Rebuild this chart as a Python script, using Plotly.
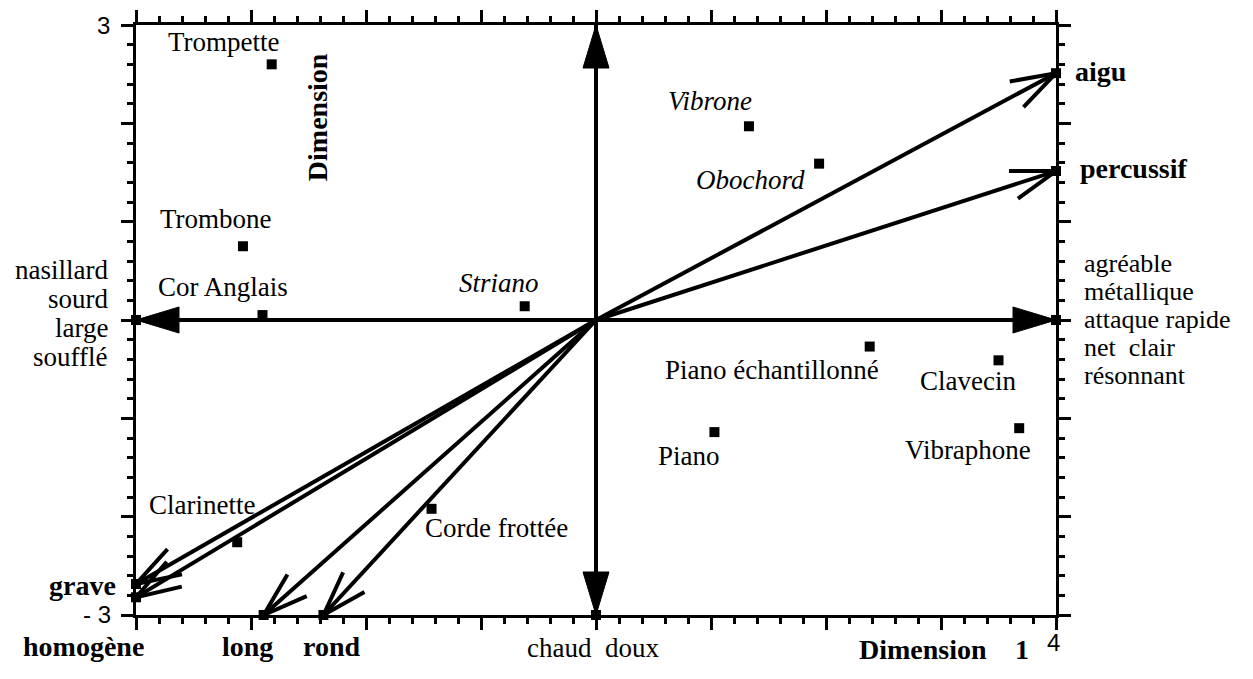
import math
import plotly.graph_objects as go

# ---------------- data ----------------
instruments = ["Trompette", "Trombone", "Cor Anglais", "Striano", "Vibrone", "Obochord",
               "Piano échantillonné", "Clavecin", "Vibraphone", "Piano", "Corde frottée", "Clarinette"]
inst_x = [-2.82, -3.07, -2.90, -0.62, 1.33, 1.94, 2.38, 3.50, 3.68, 1.03, -1.43, -3.12]
inst_y = [2.60, 0.75, 0.05, 0.14, 1.97, 1.59, -0.27, -0.41, -1.10, -1.14, -1.92, -2.26]
inst_italic = [False, False, False, True, True, True, False, False, False, False, False, False]
# label offsets in pixels (right, up) from each point
label_dx = [-48, -27, -40, -26, -39, -69, -98, -31, -51, -25, 65, -35]
label_dy = [22, 27.5, 28.5, 23.5, 25.5, -16.5, -23.5, -20.5, -21.5, -23.5, -19.5, 37.5]

# descriptor vectors (open arrowheads)
vec_names = ["aigu", "percussif", "grave", "", "long", "rond"]
vec_x = [4.0, 4.0, -4.0, -4.0, -2.89, -2.37]
vec_y = [2.51, 1.515, -2.685, -2.82, -3.0, -3.0]

# main axis arrows (filled arrowheads)
pole_x = [-4.0, 4.0, 0.0, 0.0]
pole_y = [0.0, 0.0, 3.0, -3.0]
pole_marked = [True, True, False, True]

left_words = ["nasillard", "sourd", "large", "soufflé"]
right_words = ["agréable", "métallique", "attaque rapide", "net\u00a0 clair", "résonnant"]

# ---------------- layout constants ----------------
BODY = 8                      # default page margin around the plot div
W, H = 1253 - 2 * BODY, 679 - 2 * BODY
ML, MT = 136 - BODY, 25 - BODY
PW, PH = 920, 590
MR, MB = W - ML - PW, H - MT - PH
XR = [-4, 4]
YR = [-3, 3]
kx = PW / (XR[1] - XR[0])
ky = PH / (YR[1] - YR[0])

SERIF = "Liberation Serif"
SANS = "Liberation Sans"
FS = 27
FR = 26
FB = 28
FT = 24

fig = go.Figure()

# shafts
sx, sy = [], []
for ex, ey in zip(vec_x, vec_y):
    sx += [0, ex, None]
    sy += [0, ey, None]
sx += [pole_x[0], pole_x[1], None, pole_x[2], pole_x[3], None]
sy += [pole_y[0], pole_y[1], None, pole_y[2], pole_y[3], None]
fig.add_trace(go.Scatter(x=sx, y=sy, mode="lines", line=dict(color="black", width=4),
                         hoverinfo="skip"))


def unit_back(ex, ey):
    px, py = -ex * kx, -ey * ky
    n = math.hypot(px, py)
    return px / n, py / n


# open chevron heads
cx, cy = [], []
L_ARM, HALF = 47, 18
for ex, ey in zip(vec_x, vec_y):
    ux, uy = unit_back(ex, ey)
    pts = []
    for s in (1, -1):
        a = math.radians(HALF * s)
        rx = ux * math.cos(a) - uy * math.sin(a)
        ry = ux * math.sin(a) + uy * math.cos(a)
        pts.append((ex + rx * L_ARM / kx, ey + ry * L_ARM / ky))
    cx += [pts[0][0], ex, pts[1][0], None]
    cy += [pts[0][1], ey, pts[1][1], None]
fig.add_trace(go.Scatter(x=cx, y=cy, mode="lines", line=dict(color="black", width=4),
                         hoverinfo="skip"))

# filled triangle heads
TL, TW = 43, 13
for ex, ey in zip(pole_x, pole_y):
    ux, uy = unit_back(ex, ey)
    bx, by = ex * kx + ux * TL, ey * ky + uy * TL
    p1 = ((bx - uy * TW) / kx, (by + ux * TW) / ky)
    p2 = ((bx + uy * TW) / kx, (by - ux * TW) / ky)
    fig.add_trace(go.Scatter(x=[ex, p1[0], p2[0], ex], y=[ey, p1[1], p2[1], ey],
                             mode="lines", fill="toself", fillcolor="black",
                             line=dict(color="black", width=1), hoverinfo="skip"))

# end markers
mx = vec_x + [x for x, m in zip(pole_x, pole_marked) if m]
my = vec_y + [y for y, m in zip(pole_y, pole_marked) if m]
fig.add_trace(go.Scatter(x=mx, y=my, mode="markers", cliponaxis=False,
                         marker=dict(symbol="square", size=10, color="black"), hoverinfo="skip"))

# instruments
fig.add_trace(go.Scatter(x=inst_x, y=inst_y, mode="markers", cliponaxis=False,
                         marker=dict(symbol="square", size=10, color="black"),
                         text=instruments, hoverinfo="text"))

ann = []
for name, x, y, it, dx, dy in zip(instruments, inst_x, inst_y, inst_italic, label_dx, label_dy):
    ann.append(dict(x=x, y=y, text=name, showarrow=False, xshift=dx, yshift=dy,
                    font=dict(family=SERIF, size=FS, color="black",
                              style="italic" if it else "normal")))

# vector labels
vec_lab = {
    "aigu": dict(xanchor="left", xshift=17, yshift=2),
    "percussif": dict(xanchor="left", xshift=22, yshift=3),
    "grave": dict(xanchor="right", xshift=-18, yshift=-1),
    "long": dict(xanchor="center", xshift=-16, yshift=-31),
    "rond": dict(xanchor="center", xshift=8, yshift=-31),
}
for name, x, y in zip(vec_names, vec_x, vec_y):
    if name:
        ann.append(dict(x=x, y=y, text=name, showarrow=False, **vec_lab[name],
                        font=dict(family=SERIF, size=FB, color="black", weight="bold")))

# pole labels
for i, w in enumerate(left_words):
    ann.append(dict(x=pole_x[0], y=pole_y[0], text=w, showarrow=False, xanchor="right",
                    xshift=-26, yshift=50.5 - 29 * i,
                    font=dict(family=SERIF, size=FS, color="black")))
for i, w in enumerate(right_words):
    ann.append(dict(x=pole_x[1], y=pole_y[1], text=w, showarrow=False, xanchor="left",
                    xshift=26, yshift=57 - 28 * i,
                    font=dict(family=SERIF, size=FR, color="black")))
ann.append(dict(x=pole_x[3], y=pole_y[3], text="chaud\u00a0 doux", showarrow=False,
                xshift=-3, yshift=-33, font=dict(family=SERIF, size=FS, color="black")))
ann.append(dict(x=XR[0], y=YR[0], text="homogène", showarrow=False,
                xshift=-52.5, yshift=-31,
                font=dict(family=SERIF, size=FB, color="black", weight="bold")))

# axis titles
ann.append(dict(x=2.84, y=YR[0], text="Dimension", showarrow=False, yshift=-34,
                font=dict(family=SERIF, size=FB, color="black", weight="bold")))
ann.append(dict(x=3.70, y=YR[0], text="1", showarrow=False, yshift=-34,
                font=dict(family=SERIF, size=FB, color="black", weight="bold")))
ann.append(dict(x=-2.42, y=2.06, text="Dimension", showarrow=False, textangle=-90,
                font=dict(family=SERIF, size=FB, color="black", weight="bold")))
ann.append(dict(x=-2.39, y=3.06, text="4", showarrow=False, textangle=-90,
                font=dict(family=SERIF, size=FB, color="black", weight="bold")))

# tick labels
ann.append(dict(x=XR[0], y=YR[1], text="3", showarrow=False, xanchor="right", xshift=-24,
                font=dict(family=SANS, size=FT, color="black")))
ann.append(dict(x=XR[0], y=YR[0], text="- 3", showarrow=False, xanchor="right", xshift=-23,
                yshift=1, font=dict(family=SANS, size=FT, color="black")))
ann.append(dict(x=XR[1], y=YR[0], text="4", showarrow=False, xshift=-3, yshift=-27,
                font=dict(family=SANS, size=FT, color="black")))

axis_common = dict(showgrid=False, zeroline=False, showline=True, linewidth=2.5,
                   linecolor="black", mirror="allticks", ticks="outside", ticklen=12,
                   tickwidth=2.5, tickcolor="black", showticklabels=False, tick0=0, dtick=1,
                   minor=dict(ticks="outside", ticklen=6, tickwidth=2.5, tickcolor="black",
                              dtick=0.2, showgrid=False),
                   automargin=False, fixedrange=True)

fig.update_layout(
    width=W, height=H,
    margin=dict(l=ML, r=MR, t=MT, b=MB, pad=0, autoexpand=False),
    paper_bgcolor="white", plot_bgcolor="white",
    showlegend=False,
    xaxis=dict(range=XR, **axis_common),
    yaxis=dict(range=YR, **axis_common),
    annotations=ann,
)

fig.write_html("out.html")
